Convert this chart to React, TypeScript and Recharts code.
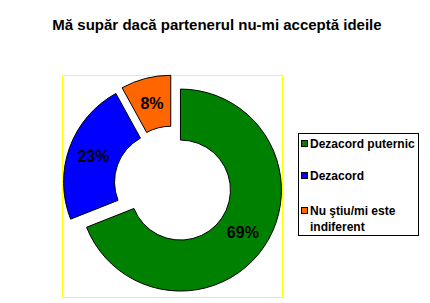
import React from "react";
import { PieChart, Pie, Cell, Legend, Sector } from "recharts";

const categories = ["Dezacord puternic", "Dezacord", "Nu ştiu/mi este indiferent"];
const values = [69, 23, 8];
const colors = ["#008000", "#0000ff", "#ff6600"];

const data = categories.map((name, i) => ({ name, value: values[i] }));

const RAD = Math.PI / 180;
const EXPLODE = 9;
const FONT = "'Liberation Sans', Arial, sans-serif";

// move a point outward along the slice bisector
function push(cx: number, cy: number, r: number, midAngle: number) {
  return {
    x: cx + r * Math.cos(-midAngle * RAD),
    y: cy + r * Math.sin(-midAngle * RAD),
  };
}

function ExplodedSector(props: any) {
  const p = push(props.cx, props.cy, EXPLODE, props.midAngle);
  return <Sector {...props} cx={p.x} cy={p.y} />;
}

function renderLabel(props: any) {
  const { cx, cy, midAngle, innerRadius, outerRadius, percent } = props;
  const c = push(cx, cy, EXPLODE, midAngle);
  const p = push(c.x, c.y, (innerRadius + outerRadius) / 2, midAngle);
  return (
    <text
      x={p.x}
      y={p.y}
      textAnchor="middle"
      dominantBaseline="central"
      fill="#000"
      fontFamily={FONT}
      fontWeight="bold"
      fontSize={16}
    >
      {`${Math.round(percent * 100)}%`}
    </text>
  );
}

const rowTops = [2, 34, 69];

function renderLegend() {
  return (
    <div
      style={{
        width: 121,
        height: 103,
        boxSizing: "border-box",
        border: "1px solid #000",
        background: "#fff",
        position: "relative",
        fontFamily: FONT,
        fontWeight: "bold",
        fontSize: 12,
        lineHeight: "16px",
        color: "#000",
      }}
    >
      {data.map((d, i) => (
        <div key={d.name} style={{ position: "absolute", left: 2, top: rowTops[i], display: "flex" }}>
          <span
            style={{
              width: 7,
              height: 7,
              marginTop: 4,
              boxSizing: "border-box",
              border: "1px solid #000",
              background: colors[i],
              flex: "none",
            }}
          />
          <span style={{ marginLeft: 2, width: 108 }}>{d.name}</span>
        </div>
      ))}
    </div>
  );
}

export default function App() {
  return (
    <div style={{ position: "absolute", left: 0, top: 0, width: 430, height: 303, background: "#fff" }}>
      <div
        style={{
          position: "absolute",
          left: 0,
          top: 15,
          width: 434,
          textAlign: "center",
          fontFamily: FONT,
          fontWeight: "bold",
          fontSize: 15,
          lineHeight: "20px",
          color: "#000",
        }}
      >
        Mă supăr dacă partenerul nu-mi acceptă ideile
      </div>
      <div
        style={{
          position: "absolute",
          left: 62,
          top: 75,
          width: 221,
          height: 223,
          boxSizing: "border-box",
          border: "1px solid #ffff00",
        }}
      />
      <div style={{ position: "absolute", left: 0, top: 0 }}>
        <PieChart width={430} height={303} margin={{ top: 0, right: 0, bottom: 0, left: 0 }}>
          <Pie
            data={data}
            dataKey="value"
            nameKey="name"
            cx={173}
            cy={185}
            innerRadius={50}
            outerRadius={101}
            startAngle={90}
            endAngle={-270}
            stroke="#000"
            strokeWidth={1}
            shape={ExplodedSector}
            label={renderLabel}
            labelLine={false}
            isAnimationActive={false}
          >
            {data.map((d, i) => (
              <Cell key={d.name} fill={colors[i]} />
            ))}
          </Pie>
          <Legend
            content={renderLegend}
            wrapperStyle={{ position: "absolute", left: 298, top: 133, width: 121, height: 103 }}
          />
        </PieChart>
      </div>
    </div>
  );
}
